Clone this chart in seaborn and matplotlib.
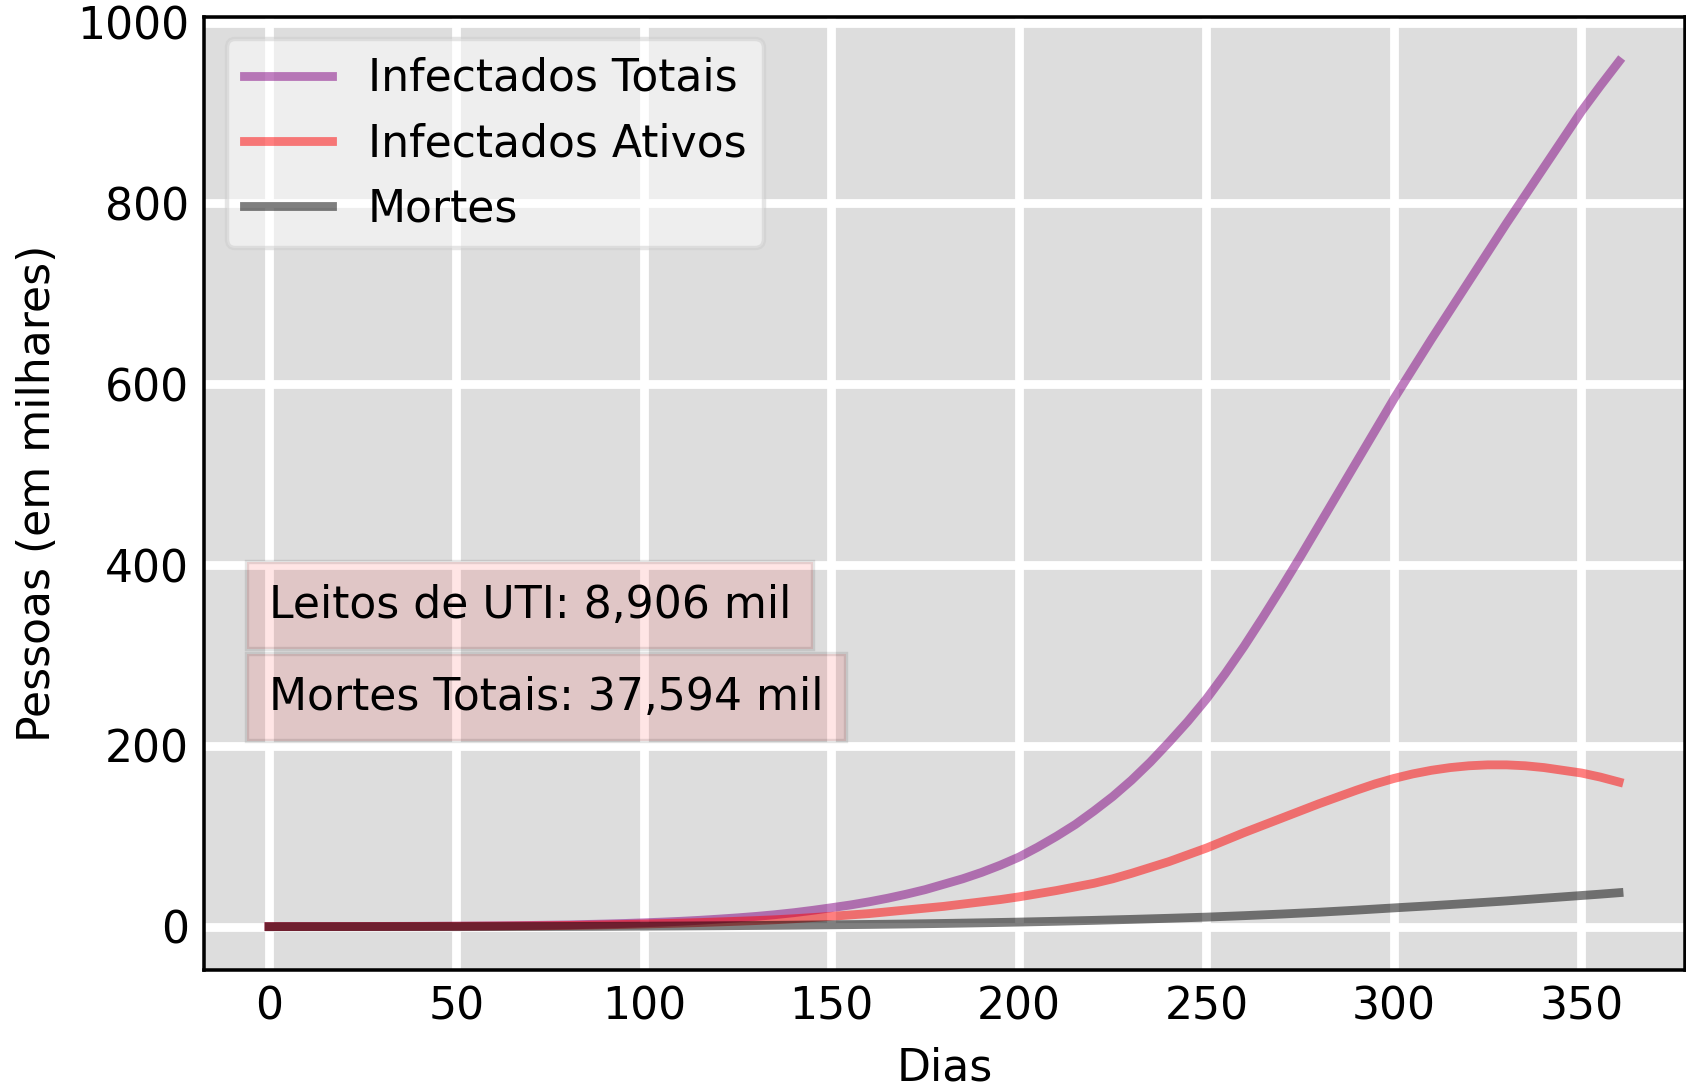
import matplotlib
matplotlib.use("Agg")
import matplotlib.pyplot as plt
import seaborn as sns

dias = list(range(0, 361, 5))

infectados_totais = [
    0.1, 0.12, 0.15, 0.17, 0.2, 0.25, 0.3, 0.37, 0.45, 0.55,          # 0-45
    0.65, 0.8, 0.95, 1.15, 1.4, 1.7, 2.0, 2.5, 3.0, 3.6,              # 50-95
    4.3, 5.1, 6.0, 7.1, 8.4, 9.8, 11.4, 13.3, 15.5, 18.1,             # 100-145
    21, 24, 27.5, 31.5, 36, 41, 47, 53, 60, 68,                       # 150-195
    77, 88, 100, 113, 128, 144, 162, 182, 204, 227,                   # 200-245
    252, 280, 310, 342, 375, 409, 444, 479, 514, 549,                 # 250-295
    584, 617, 650, 682, 714, 746, 778, 809, 840, 871,                 # 300-345
    902, 930, 957]                                                    # 350-360

infectados_ativos = [
    0.1, 0.11, 0.12, 0.13, 0.15, 0.17, 0.2, 0.25, 0.3, 0.37,
    0.45, 0.55, 0.65, 0.8, 0.95, 1.15, 1.4, 1.7, 2.1, 2.5,
    3.0, 3.5, 4.0, 4.6, 5.3, 6.0, 6.8, 7.7, 8.8, 10.1,
    11.5, 13.0, 14.5, 16.5, 18.5, 20.5, 22.5, 25, 27.5, 30,
    33, 36.5, 40, 44, 48, 53, 59, 65.5, 72, 79.5,
    87, 95.5, 104, 112, 120, 128, 136, 143.5, 151, 158,
    164, 169, 173, 176, 178, 179, 179, 178, 176, 173,
    170, 165.5, 160]

mortes = [
    0.0, 0.0, 0.0, 0.005, 0.01, 0.015, 0.02, 0.03, 0.04, 0.055,
    0.07, 0.09, 0.12, 0.15, 0.18, 0.22, 0.27, 0.33, 0.4, 0.5,
    0.6, 0.7, 0.8, 0.92, 1.05, 1.2, 1.35, 1.52, 1.7, 1.9,
    2.1, 2.3, 2.5, 2.75, 3.0, 3.3, 3.6, 3.95, 4.3, 4.7,
    5.1, 5.55, 6.0, 6.5, 7.0, 7.55, 8.1, 8.7, 9.3, 9.95,
    10.6, 11.4, 12.2, 13.1, 14.0, 15.0, 16.0, 17.15, 18.3, 19.55,
    20.8, 22.0, 23.2, 24.5, 25.8, 27.15, 28.5, 30.0, 31.5, 33.0,
    34.5, 36.0, 37.6]

series_nomes = ["Infectados Totais", "Infectados Ativos", "Mortes"]
series_cores = ["purple", "red", "black"]
caixa_textos = ["Leitos de UTI: 8,906 mil", "Mortes Totais: 37,594 mil"]
caixa_y = [355, 254]

DPI = 317.5
fig = plt.figure(figsize=(1687 / DPI, 1085 / DPI), dpi=DPI)
ax = fig.add_axes([204.5 / 1687, 1 - 970 / 1085, (1685 - 204.5) / 1687, (970 - 17.3) / 1085],
                  facecolor="#dddddd")
ax.set_axisbelow(True)

for nome, cor, vals in zip(series_nomes, series_cores,
                           [infectados_totais, infectados_ativos, mortes]):
    sns.lineplot(x=dias, y=vals, color=cor, alpha=0.5, linewidth=2, label=nome, ax=ax)

ax.set_xlim(-17.2, 377.6)
ax.set_ylim(-47.9, 1005.9)
ax.set_xticks([0, 50, 100, 150, 200, 250, 300, 350])
ax.set_yticks([0, 200, 400, 600, 800, 1000])
ax.xaxis.set_tick_params(length=0, labelsize=10)
ax.yaxis.set_tick_params(length=0, labelsize=10)
ax.grid(True, which="major", color="w", lw=2, ls="-")
ax.set_xlabel("Dias", fontsize=10)
ax.set_ylabel("Pessoas (em milhares)", fontsize=10)
for sp in ax.spines.values():
    sp.set_color("black")
    sp.set_linewidth(0.8)

leg = ax.legend(loc="upper left", fontsize=10)
leg.get_frame().set_alpha(0.5)

for txt, yy in zip(caixa_textos, caixa_y):
    ax.text(0, yy, txt, fontsize=10, va="center", ha="left",
            bbox=dict(boxstyle="square,pad=0.5", facecolor="red", alpha=0.1))

fig.savefig("out.png", dpi=DPI)
